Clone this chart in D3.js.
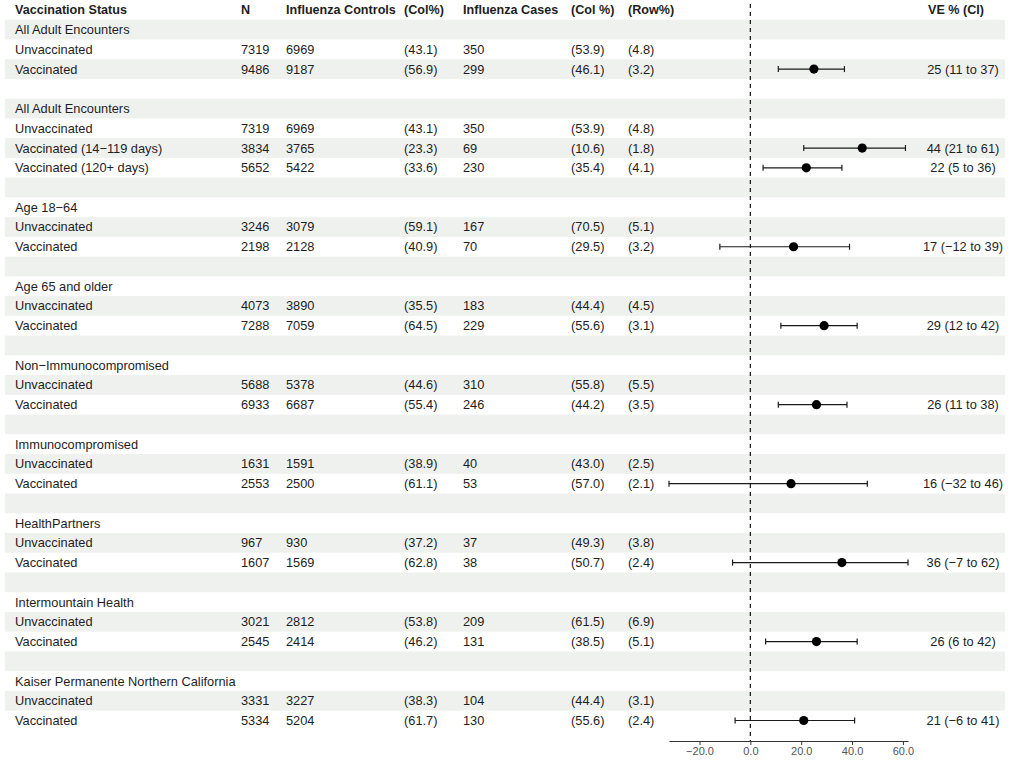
<!DOCTYPE html>
<html><head><meta charset="utf-8">
<script src="https://cdn.jsdelivr.net/npm/d3@7"></script>
<style>
html,body{margin:0;padding:0;background:#fff;}
svg{display:block;font-family:"Liberation Sans",Arial,Helvetica,sans-serif;}
</style></head>
<body>
<svg id="chart" width="1010" height="760"></svg>
<script>
const headers = ["Vaccination Status","N","Influenza Controls","(Col%)","Influenza Cases","(Col %)","(Row%)","VE % (CI)"];
const rowLabels = [
 "All Adult Encounters","Unvaccinated","Vaccinated","",
 "All Adult Encounters","Unvaccinated","Vaccinated (14\u2212119 days)","Vaccinated (120+ days)","",
 "Age 18\u221264","Unvaccinated","Vaccinated","",
 "Age 65 and older","Unvaccinated","Vaccinated","",
 "Non\u2212Immunocompromised","Unvaccinated","Vaccinated","",
 "Immunocompromised","Unvaccinated","Vaccinated","",
 "HealthPartners","Unvaccinated","Vaccinated","",
 "Intermountain Health","Unvaccinated","Vaccinated","",
 "Kaiser Permanente Northern California","Unvaccinated","Vaccinated"];
const nTotal = ["","7319","9486","", "","7319","3834","5652","", "","3246","2198","", "","4073","7288","", "","5688","6933","", "","1631","2553","", "","967","1607","", "","3021","2545","", "","3331","5334"];
const controls = ["","6969","9187","", "","6969","3765","5422","", "","3079","2128","", "","3890","7059","", "","5378","6687","", "","1591","2500","", "","930","1569","", "","2812","2414","", "","3227","5204"];
const controlsPct = ["","(43.1)","(56.9)","", "","(43.1)","(23.3)","(33.6)","", "","(59.1)","(40.9)","", "","(35.5)","(64.5)","", "","(44.6)","(55.4)","", "","(38.9)","(61.1)","", "","(37.2)","(62.8)","", "","(53.8)","(46.2)","", "","(38.3)","(61.7)"];
const cases = ["","350","299","", "","350","69","230","", "","167","70","", "","183","229","", "","310","246","", "","40","53","", "","37","38","", "","209","131","", "","104","130"];
const casesPct = ["","(53.9)","(46.1)","", "","(53.9)","(10.6)","(35.4)","", "","(70.5)","(29.5)","", "","(44.4)","(55.6)","", "","(55.8)","(44.2)","", "","(43.0)","(57.0)","", "","(49.3)","(50.7)","", "","(61.5)","(38.5)","", "","(44.4)","(55.6)"];
const rowPct = ["","(4.8)","(3.2)","", "","(4.8)","(1.8)","(4.1)","", "","(5.1)","(3.2)","", "","(4.5)","(3.1)","", "","(5.5)","(3.5)","", "","(2.5)","(2.1)","", "","(3.8)","(2.4)","", "","(6.9)","(5.1)","", "","(3.1)","(2.4)"];
const ve     = [null,null,25,null, null,null,44,22,null, null,null,17,null, null,null,29,null, null,null,26,null, null,null,16,null, null,null,36,null, null,null,26,null, null,null,21];
const veLow  = [null,null,11,null, null,null,21,5,null,  null,null,-12,null, null,null,12,null, null,null,11,null, null,null,-32,null, null,null,-7,null, null,null,6,null, null,null,-6];
const veHigh = [null,null,37,null, null,null,61,36,null, null,null,39,null, null,null,42,null, null,null,38,null, null,null,46,null, null,null,62,null, null,null,42,null, null,null,41];
const axisTicks = [-20, 0, 20, 40, 60];

const svg = d3.select("#chart");
const nRows = rowLabels.length;
const y = d3.scaleBand().domain(d3.range(nRows + 1)).range([0, 19.74 * (nRows + 1)]).paddingInner(0).paddingOuter(0);
const x = d3.scaleLinear().domain([-32, 62]).range([669, 908]);
const textCol = "#1e1e1e";

// shading
svg.append("g").selectAll("rect")
  .data(d3.range(nRows).filter(i => i % 2 === 0))
  .join("rect")
  .attr("x", 5).attr("width", 1000)
  .attr("y", i => y(i + 1)).attr("height", y.bandwidth())
  .attr("fill", "#eff1ef");

// column positions
const cols = [
  {x: 15, data: rowLabels},
  {x: 241, data: nTotal},
  {x: 286, data: controls},
  {x: 404, data: controlsPct},
  {x: 463, data: cases},
  {x: 571, data: casesPct},
  {x: 628, data: rowPct}
];

// headers
const hdr = svg.append("g").attr("font-weight", "bold").attr("font-size", 12.6).attr("fill", textCol);
cols.forEach((c, k) => {
  hdr.append("text").attr("x", c.x).attr("y", y(0) + y.bandwidth() / 2).attr("dy", "0.35em").text(headers[k]);
});
hdr.append("text").attr("x", 956).attr("text-anchor", "middle").attr("y", y(0) + y.bandwidth() / 2).attr("dy", "0.35em").text(headers[7]);

// body
const body = svg.append("g").attr("font-size", 12.8).attr("fill", textCol);
cols.forEach(c => {
  body.append("g").selectAll("text").data(c.data).join("text")
    .attr("x", c.x).attr("y", (d, i) => y(i + 1) + y.bandwidth() / 2).attr("dy", "0.35em")
    .text(d => d);
});

// zero reference line
svg.append("line").attr("x1", x(0)).attr("x2", x(0)).attr("y1", 4).attr("y2", 741)
  .attr("stroke", "#222").attr("stroke-width", 1.3).attr("stroke-dasharray", "4,4");

// CI + points
const idx = d3.range(nRows).filter(i => ve[i] !== null);
const ci = svg.append("g");
ci.selectAll("line.ci").data(idx).join("line").attr("class", "ci")
  .attr("x1", i => x(veLow[i])).attr("x2", i => x(veHigh[i]))
  .attr("y1", i => y(i + 1) + y.bandwidth() / 2).attr("y2", i => y(i + 1) + y.bandwidth() / 2)
  .attr("stroke", "#1a1a1a").attr("stroke-width", 1.2);
["lo", "hi"].forEach(side => {
  ci.selectAll("line.cap" + side).data(idx).join("line").attr("class", "cap" + side)
    .attr("x1", i => x(side === "lo" ? veLow[i] : veHigh[i]))
    .attr("x2", i => x(side === "lo" ? veLow[i] : veHigh[i]))
    .attr("y1", i => y(i + 1) + y.bandwidth() / 2 - 3)
    .attr("y2", i => y(i + 1) + y.bandwidth() / 2 + 3)
    .attr("stroke", "#1a1a1a").attr("stroke-width", 1.2);
});
ci.selectAll("circle").data(idx).join("circle")
  .attr("cx", i => x(ve[i])).attr("cy", i => y(i + 1) + y.bandwidth() / 2)
  .attr("r", 4.6).attr("fill", "#000");

// VE text
const fmtNum = v => (v < 0 ? "\u2212" + Math.abs(v) : String(v));
body.append("g").selectAll("text").data(idx).join("text")
  .attr("x", 963).attr("text-anchor", "middle")
  .attr("y", i => y(i + 1) + y.bandwidth() / 2).attr("dy", "0.35em")
  .text(i => `${ve[i]} (${fmtNum(veLow[i])} to ${fmtNum(veHigh[i])})`);

// axis
const axis = d3.axisBottom(x).tickValues(axisTicks).tickFormat(d3.format(".1f")).tickSize(4).tickSizeOuter(0);
const ag = svg.append("g").attr("transform", "translate(0,741)").call(axis);
ag.select(".domain").attr("stroke", "#333").attr("stroke-width", 1.2);
ag.selectAll(".tick line").attr("stroke", "#333");
ag.selectAll(".tick text").attr("fill", "#555").attr("font-size", 11)
  .attr("font-family", "'Liberation Sans',Arial,sans-serif").attr("y", 6).attr("dy", "0.71em");
</script>
</body></html>
